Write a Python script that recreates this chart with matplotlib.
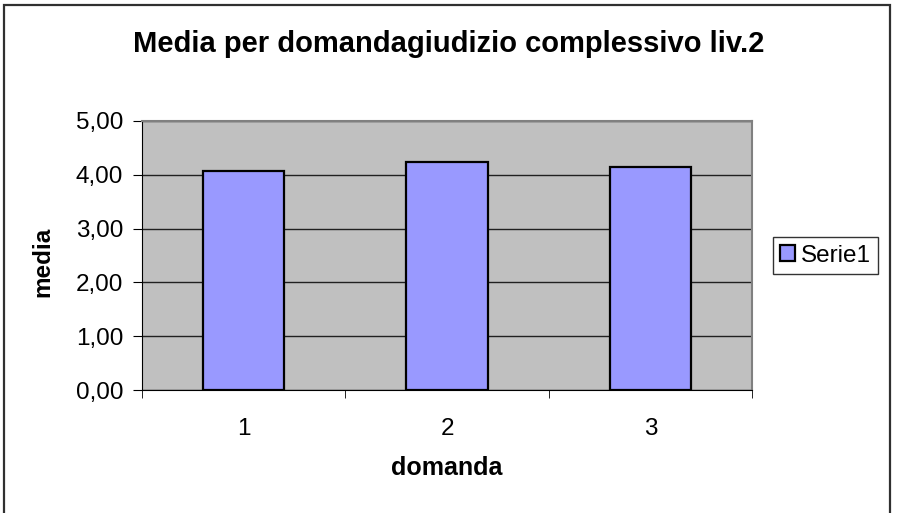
import matplotlib.pyplot as plt
from matplotlib.patches import Rectangle

plt.rcParams['font.family'] = ['Liberation Sans', 'DejaVu Sans']

categories = ['1', '2', '3']
values = [4.07, 4.23, 4.15]
yticks = [0, 1, 2, 3, 4, 5]
ytick_labels = ['0,00', '1,00', '2,00', '3,00', '4,00', '5,00']

W, H = 898, 513
fig = plt.figure(figsize=(W / 100, H / 100), dpi=100)
fig.patch.set_facecolor('white')

# outer chart border (bottom edge falls outside the picture)
fig.add_artist(Rectangle((4 / W, -5 / H), (890 - 4) / W, (508 + 5) / H,
                         transform=fig.transFigure, fill=False,
                         edgecolor='#303030', linewidth=1.6))

ax = fig.add_axes([142 / W, 1 - 390 / H, (752 - 142) / W, (390 - 121) / H])
ax.set_facecolor('#c0c0c0')

x = range(len(categories))
ax.bar(x, values, width=0.4, color='#9999ff', edgecolor='black',
       linewidth=1.6, label='Serie1', zorder=3)

ax.set_xlim(-0.5, 2.5)
ax.set_ylim(0, 5)
ax.set_yticks(yticks)
ax.set_yticklabels(ytick_labels, fontsize=17.5)
ax.set_xticks(list(x))
ax.set_xticklabels(categories, fontsize=17.5)
ax.set_xticks([-0.5, 0.5, 1.5, 2.5], minor=True)
ax.yaxis.grid(True, color='#202020', linewidth=1.0, zorder=1)

for side in ['top', 'right']:
    ax.spines[side].set_color('#808080')
    ax.spines[side].set_linewidth(1.5)
for side in ['left', 'bottom']:
    ax.spines[side].set_color('black')
ax.tick_params(axis='y', direction='out', length=6.5, pad=7, color='black')
ax.tick_params(axis='x', which='major', length=0, pad=20)
ax.tick_params(axis='x', which='minor', direction='out', length=5.5,
               color='black')

ax.set_xlabel('domanda', fontsize=18, fontweight='bold')
ax.set_ylabel('media', fontsize=17.5, fontweight='bold')
ax.xaxis.set_label_coords(447 / W, 1 - 456 / H, transform=fig.transFigure)
ax.yaxis.set_label_coords(54 / W, 1 - 262 / H, transform=fig.transFigure)

fig.text(449 / W, 1 - 52 / H, 'Media per domandagiudizio complessivo liv.2',
         ha='center', va='baseline', fontsize=21, fontweight='bold')

leg = ax.legend(loc='center left', bbox_to_anchor=(773 / W, 1 - 255.5 / H),
                bbox_transform=fig.transFigure, fontsize=17.5, frameon=True,
                fancybox=False, edgecolor='black', handlelength=0.6,
                handleheight=0.6, handletextpad=0.25, borderpad=0.3,
                borderaxespad=0)
leg.get_frame().set_linewidth(1.0)

fig.savefig('out.png', dpi=100)
